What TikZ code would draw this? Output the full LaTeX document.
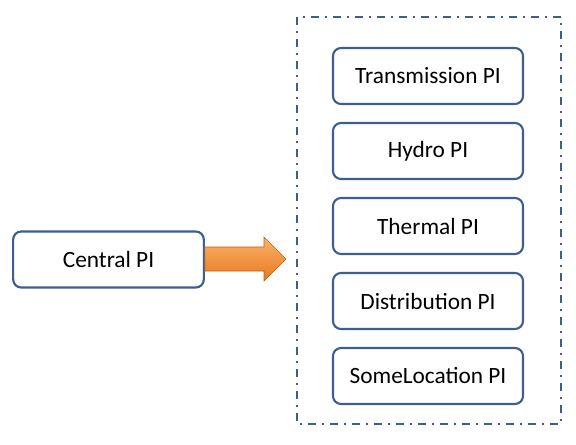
\documentclass[tikz,border=0pt]{standalone}
\usepackage{fontspec}
\setmainfont{Carlito}
\definecolor{bord}{HTML}{3C5F8E}
\definecolor{orA}{HTML}{FBB26A}
\definecolor{orB}{HTML}{E8781E}
\tikzset{
  pibox/.style={draw=bord, line width=1.6pt, rounded corners=6pt, fill=white, minimum width=142.5pt, minimum height=42pt, font=\fontsize{17.5}{20}\selectfont, inner sep=0pt},
  groupbox/.style={draw=bord, line width=1.4pt, dash pattern=on 6pt off 4.5pt on 1.5pt off 4.5pt},
}
\begin{document}
\begin{tikzpicture}[x=0.75pt,y=-0.75pt]
\useasboundingbox (0,0) rectangle (576,444);
\draw[groupbox] (297,17) rectangle (561,424);
\node[pibox, minimum width=143pt] (central) at (108.5,259.5) {Central PI};
\node[pibox] (t) at (428,76) {Transmission PI};
\node[pibox] (h) at (428,151) {Hydro PI};
\node[pibox] (th) at (428,226) {Thermal PI};
\node[pibox] (d) at (428,301) {Distribution PI};
\node[pibox] (s) at (428,376) {SomeLocation PI};
\coordinate (tip) at (286,259);
\shade[top color=orA, bottom color=orB, draw=orB!80!black, line width=0.4pt]
  (central.east |- 0,247) -- (264,247) -- (264,237) -- (tip) -- (264,281) -- (264,271) -- (central.east |- 0,271) -- cycle;
\end{tikzpicture}
\end{document}
